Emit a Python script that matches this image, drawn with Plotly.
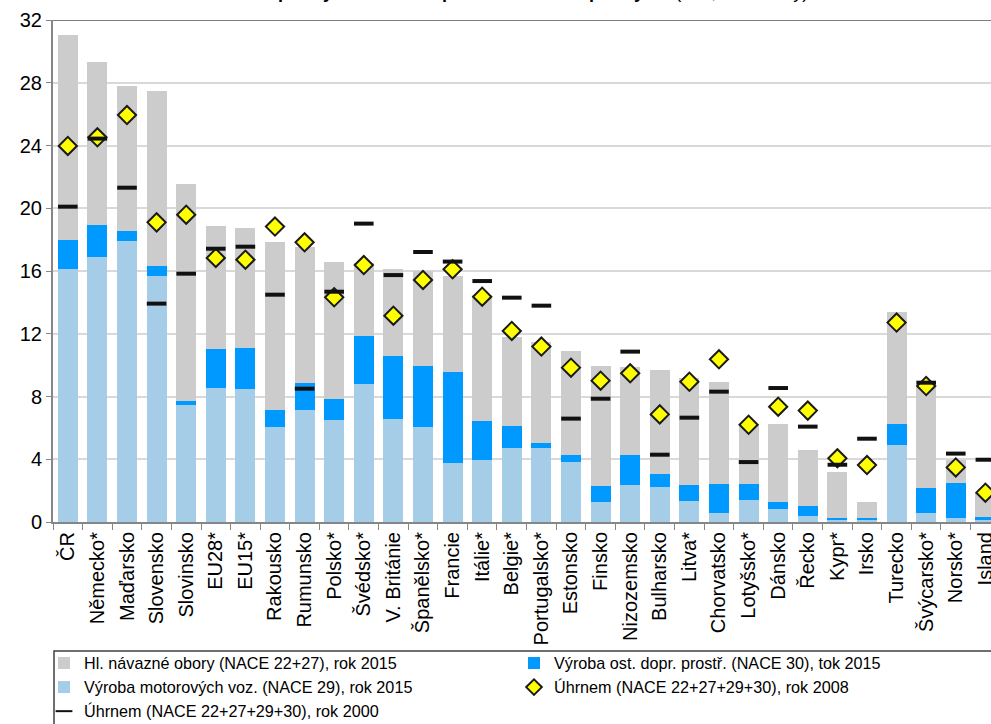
import plotly.graph_objects as go

categories = ["ČR", "Německo*", "Maďarsko", "Slovensko", "Slovinsko", "EU28*", "EU15*",
              "Rakousko", "Rumunsko", "Polsko*", "Švédsko*", "V. Británie", "Španělsko*",
              "Francie", "Itálie*", "Belgie*", "Portugalsko*", "Estonsko", "Finsko",
              "Nizozemsko", "Bulharsko", "Litva*", "Chorvatsko", "Lotyšsko*", "Dánsko",
              "Řecko", "Kypr*", "Irsko", "Turecko", "Švýcarsko*", "Norsko*", "Island"]

nace29_2015 = [16.13, 16.89, 17.93, 15.68, 7.46, 8.54, 8.48, 6.03, 7.14, 6.50, 8.80, 6.59,
               6.06, 3.76, 3.93, 4.70, 4.72, 3.82, 1.27, 2.36, 2.25, 1.34, 0.55, 1.40,
               0.81, 0.38, 0.17, 0.17, 4.93, 0.60, 0.25, 0.13]
nace30_2015 = [1.85, 2.04, 0.64, 0.64, 0.25, 2.47, 2.61, 1.11, 1.70, 1.34, 3.04, 3.99,
               3.91, 5.82, 2.51, 1.42, 0.32, 0.45, 1.02, 1.91, 0.79, 1.02, 1.87, 1.02,
               0.46, 0.64, 0.08, 0.08, 1.32, 1.57, 2.26, 0.21]
nace2227_2015 = [13.06, 10.41, 9.22, 11.15, 13.84, 7.84, 7.65, 10.73, 8.71, 8.76, 4.65, 5.57,
                 6.05, 6.10, 8.03, 5.67, 6.43, 6.61, 7.63, 5.59, 6.65, 6.80, 6.50, 3.85,
                 4.96, 3.59, 2.92, 1.00, 7.14, 6.41, 1.44, 1.53]
total_2008 = [23.97, 24.52, 25.94, 19.10, 19.59, 16.83, 16.72, 18.83, 17.83, 14.32, 16.38, 13.15,
              15.43, 16.11, 14.36, 12.18, 11.18, 9.84, 9.01, 9.48, 6.86, 8.94, 10.37, 6.20,
              7.35, 7.10, 4.06, 3.63, 12.71, 8.67, 3.48, 1.87]
total_2000 = [20.10, 24.44, 21.31, 13.92, 15.83, 17.42, 17.55, 14.49, 8.50, 14.68, 19.02, 15.74,
              17.21, 16.60, 15.36, 14.30, 13.79, 6.59, 7.86, 10.86, 4.29, 6.65, 8.31, 3.82,
              8.54, 6.08, 3.65, 5.31, None, 8.88, 4.36, 3.97]

y_ticks = [0, 4, 8, 12, 16, 20, 24, 28, 32]

FONT = "Arial, Liberation Sans, sans-serif"
W, H = 991, 724
ML, MT, MB = 53, 20, 202
PH = H - MT - MB


def py(p):
    """pixel row -> paper y"""
    return (H - MB - p) / PH


def px(p):
    """pixel column -> paper x"""
    return (p - ML) / (W - ML)


fig = go.Figure()
fig.add_trace(go.Bar(x=categories, y=nace29_2015, name="Výroba motorových voz. (NACE 29), rok 2015",
                     marker=dict(color="#a6cde8", line=dict(width=0)), legendrank=3))
fig.add_trace(go.Bar(x=categories, y=nace30_2015, name="Výroba ost. dopr. prostř. (NACE 30), tok 2015",
                     marker=dict(color="#0099ff", line=dict(width=0)), legendrank=2))
fig.add_trace(go.Bar(x=categories, y=nace2227_2015, name="Hl. návazné obory (NACE 22+27), rok 2015",
                     marker=dict(color="#cccccc", line=dict(width=0)), legendrank=1))
fig.add_trace(go.Scatter(x=categories, y=total_2008, mode="markers",
                         name="Úhrnem (NACE 22+27+29+30), rok 2008",
                         marker=dict(symbol="diamond", size=14, color="#ffff00",
                                     line=dict(color="#1a1a1a", width=2)), legendrank=4))
fig.add_trace(go.Scatter(x=categories, y=total_2000, mode="markers",
                         name="Úhrnem (NACE 22+27+29+30), rok 2000",
                         marker=dict(symbol="line-ew", size=14,
                                     line=dict(color="#111111", width=4)), legendrank=5))

# top frame line at 32
fig.add_shape(type="line", xref="paper", yref="y", x0=0, x1=1, y0=32, y1=32,
              line=dict(color="#808080", width=2), layer="above")
# legend frame
fig.add_shape(type="rect", xref="paper", yref="paper", x0=px(54), x1=px(1000),
              y0=py(651), y1=py(740), line=dict(color="#404040", width=1.5),
              fillcolor="rgba(0,0,0,0)", layer="above")

fig.add_annotation(xref="paper", yref="paper", x=0.42, y=1 + 16 / PH, xanchor="center",
                   yanchor="bottom", showarrow=False,
                   text="<b>Podíl automobilového průmyslu na HPH zpracovatelského průmyslu</b> (v %, stálé ceny)",
                   font=dict(family=FONT, size=18, color="#000000"))

fig.update_layout(
    width=W, height=H,
    margin=dict(l=ML, r=0, t=MT, b=MB, autoexpand=False),
    barmode="stack", bargap=0.32,
    plot_bgcolor="#ffffff", paper_bgcolor="#ffffff",
    font=dict(family=FONT, size=17, color="#000000"),
    showlegend=True,
    legend=dict(orientation="h", xref="container", yref="container",
                x=44 / W, xanchor="left", y=1 - 646 / H, yanchor="top",
                borderwidth=0, entrywidth=425, itemsizing="constant",
                bgcolor="rgba(0,0,0,0)",
                font=dict(family=FONT, size=16.2, color="#000000"),
                itemwidth=30, tracegroupgap=0, traceorder="normal"),
    xaxis=dict(type="category", range=[-0.5, 31.19], tickangle=-90, tickson="boundaries",
               ticks="outside", ticklen=6, tickcolor="#868686", showline=True,
               linecolor="#868686", linewidth=2, showgrid=False, automargin=False,
               tickfont=dict(family=FONT, size=20, color="#000000")),
    yaxis=dict(range=[0, 32], tickvals=y_ticks, ticks="outside", ticklen=5,
               tickcolor="#868686", showline=True, linecolor="#868686", linewidth=2,
               showgrid=True, gridcolor="#d9d9d9", gridwidth=1.5, zeroline=False,
               automargin=False,
               tickfont=dict(family=FONT, size=20, color="#000000")),
)

fig.write_html("out.html", config={"displayModeBar": False},
               post_script="document.body.style.margin='0';document.body.style.overflow='hidden';")
